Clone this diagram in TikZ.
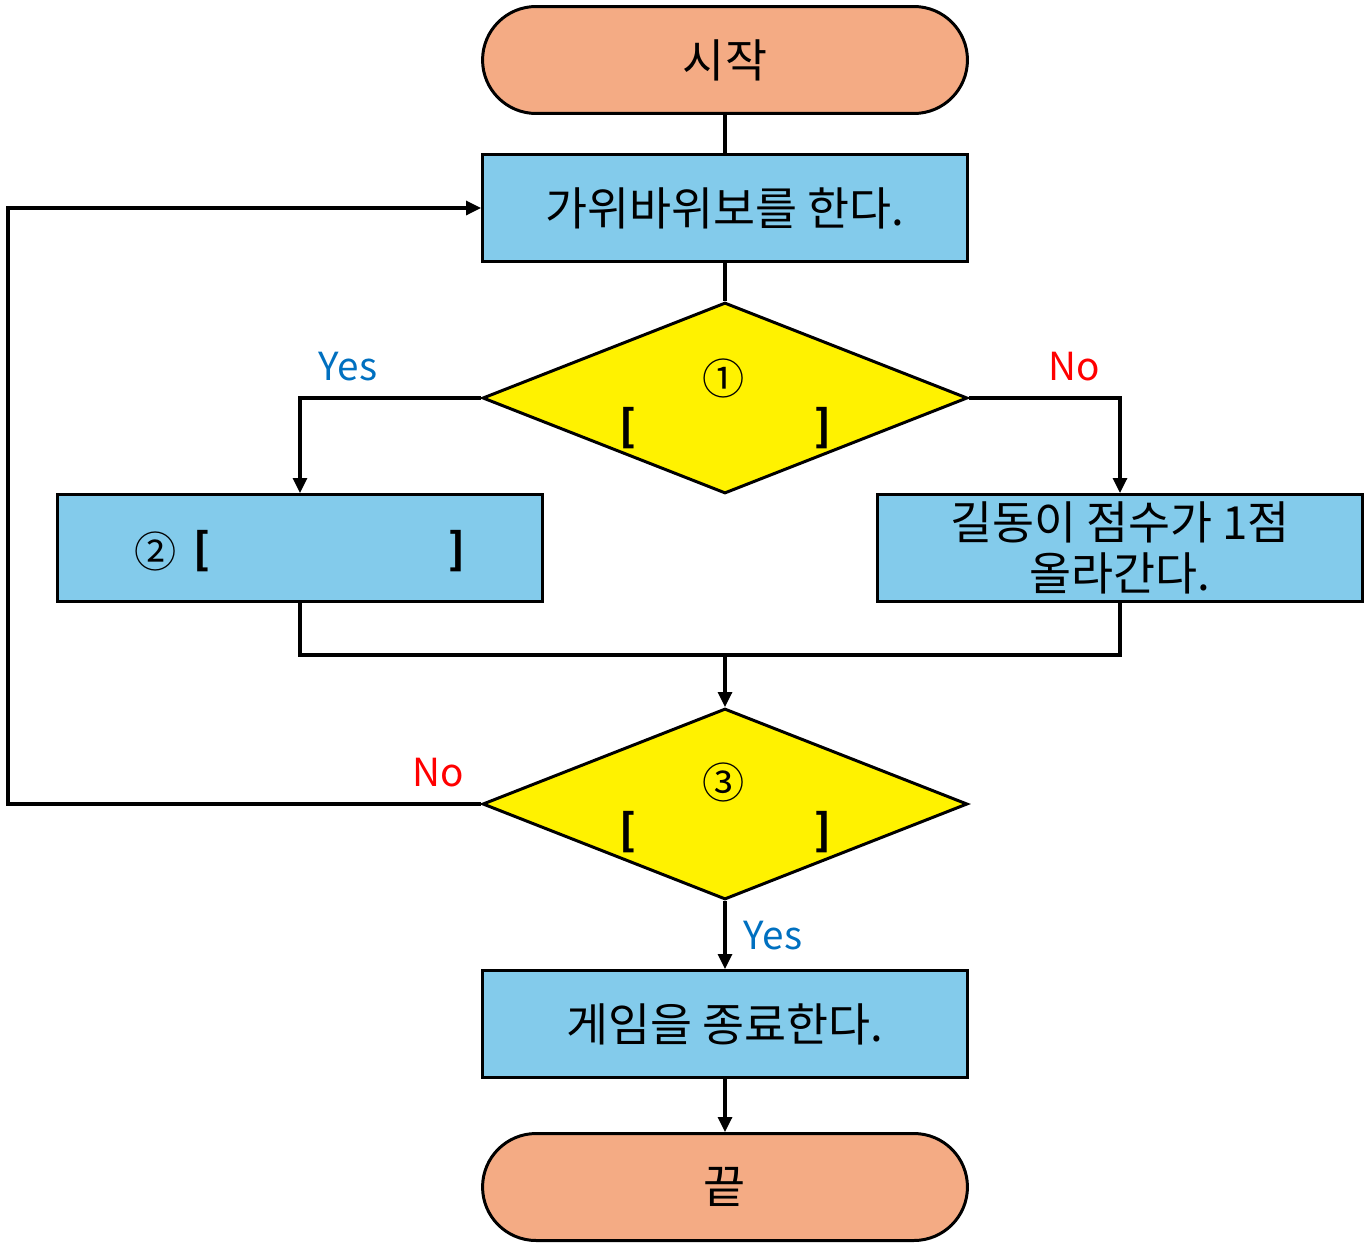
\documentclass[tikz,border=0pt]{standalone}
\usepackage{fontspec}
\setmainfont{Noto Sans CJK KR}
\usepackage{xcolor}
\usetikzlibrary{positioning}
\usetikzlibrary{shapes.geometric}
\usetikzlibrary{arrows.meta}

\definecolor{termorange}{RGB}{244,171,132}
\definecolor{boxblue}{RGB}{131,203,235}
\definecolor{yesblue}{RGB}{0,112,192}

\tikzset{
  terminal/.style={draw=black, line width=1.7pt, fill=termorange, rounded corners=1.07cm,
    minimum width=9.7cm, minimum height=2.14cm, font=\fontsize{26}{29}\selectfont},
  process/.style={draw=black, line width=1.7pt, fill=boxblue,
    minimum width=9.7cm, minimum height=2.14cm, align=center, font=\fontsize{26}{29}\selectfont},
  decision/.style={diamond, draw=black, line width=1.7pt, fill=yellow,
    minimum width=9.7cm, minimum height=3.82cm, inner sep=0pt},
  flow/.style={line width=1.8pt},
  arrowflow/.style={flow, -{Triangle[width=0.28cm,length=0.3cm]}},
  blanktext/.style={font=\fontsize{24}{29}\selectfont},
  bracket/.style={font=\fontsize{24}{29}\selectfont\bfseries},
  yeslabel/.style={text=yesblue, font=\fontsize{22}{26}\selectfont},
  nolabel/.style={text=red, font=\fontsize{22}{26}\selectfont}
}

\begin{document}
\begin{tikzpicture}[x=0.02cm, y=-0.02cm]

\useasboundingbox (0,0) rectangle (1371,1247);

% shapes
{
\node[terminal] (start) at (725,60) {시작};
\node[process] (play) at (725,208) {가위바위보를 한다.};
\node[decision] (q1) at (725,398) {};
\node[process] (yesbox) at (300,548) {};
\node[process] (gildong) at (1120,548) {길동이 점수가 1점\\올라간다.};
\node[decision] (q3) at (725,804) {};
\node[process] (stop) at (725,1024) {게임을 종료한다.};
\node[terminal] (finish) at (725,1187) {끝};
}

% blanks
{
\node[blanktext] (q1num) at (724,378) {①};
\node[bracket] (q1open) at (628,428) {[};
\node[bracket] (q1close) at (823,428) {]};

\node[blanktext] (q2num) at (156,551) {②};
\node[bracket] (q2open) at (202,551) {[};
\node[bracket] (q2close) at (457,551) {]};

\node[blanktext] (q3num) at (724,782) {③};
\node[bracket] (q3open) at (628,832) {[};
\node[bracket] (q3close) at (823,832) {]};
}

% helper points
\coordinate (merge) at (725,655);
\coordinate (loop) at (8,0);

% connectors
{
\draw[flow] (start) -- (play);
\draw[flow] (play) -- (q1);
\draw[arrowflow] (q1.west) -| (yesbox.north);
\draw[arrowflow] (q1.east) -| (gildong.north);
\draw[flow] (yesbox.south) |- (merge);
\draw[flow] (gildong.south) |- (merge);
\draw[arrowflow] (merge) -- (q3.north);
\draw[arrowflow] (q3.south) -- (stop.north);
\draw[arrowflow] (stop.south) -- (finish.north);
\draw[arrowflow] (q3.west) -- (q3.west -| loop) |- (play.west);
}

% labels
{
\node[yeslabel] (yes1) at (348,367) {Yes};
\node[nolabel] (no1) at (1074,367) {No};
\node[nolabel] (no3) at (438,773) {No};
\node[yeslabel] (yes3) at (773,936) {Yes};
}

\end{tikzpicture}
\end{document}
